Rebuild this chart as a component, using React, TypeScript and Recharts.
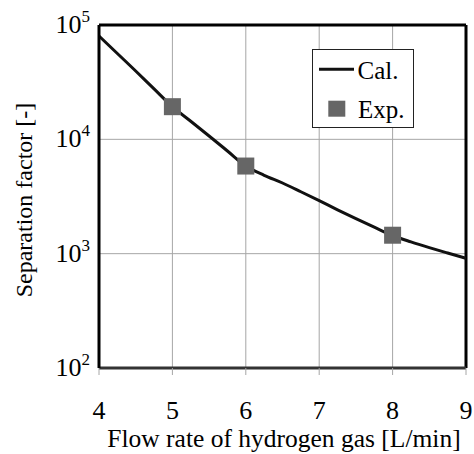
import {
  ComposedChart,
  Line,
  Scatter,
  XAxis,
  YAxis,
  CartesianGrid,
  ReferenceLine,
  Customized,
} from "recharts";

const curveX = [4, 4.25, 4.5, 4.75, 5, 5.25, 5.5, 5.75, 6, 6.25, 6.5, 6.75, 7, 7.25, 7.5, 7.75, 8, 8.25, 8.5, 8.75, 9];
const curveY = [
  80100, 56300, 39600, 27600, 19300, 14400, 10700, 7910, 5840, 4850, 4150, 3480, 2905, 2420, 2025, 1704,
  1442, 1269, 1130, 1013, 911,
];
const expX = [5, 6, 8];
const expY = [19300, 5840, 1450];
const xTicks = [4, 5, 6, 7, 8, 9];
const yTicks = [100, 1000, 10000, 100000];

const calData = curveX.map((x, i) => ({ x, cal: curveY[i] }));
const expData = expX.map((x, i) => ({ x, exp: expY[i] }));

const FONT = '"Liberation Serif", "Times New Roman", serif';

function YTick({ x, y, payload }: any) {
  const exp = Math.round(Math.log10(payload.value));
  return (
    <text x={x - 1} y={y + 8} textAnchor="end" fontFamily={FONT} fontSize={26} fill="#000">
      10
      <tspan dy={-11} fontSize={17}>
        {exp}
      </tspan>
    </text>
  );
}

function XTick({ x, y, payload }: any) {
  return (
    <text x={x} y={y + 42} textAnchor="middle" fontFamily={FONT} fontSize={26} fill="#000">
      {payload.value}
    </text>
  );
}

function Square({ cx, cy }: any) {
  return <rect x={cx - 8.5} y={cy - 8.5} width={17} height={17} fill="#666666" />;
}

// legend box and axis titles, drawn on top of the plot
function Extras() {
  return (
    <g>
      <text x={284} y={447} textAnchor="middle" fontFamily={FONT} fontSize={25.5} fill="#000">
        Flow rate of hydrogen gas [L/min]
      </text>
      <text
        x={32}
        y={200}
        transform="rotate(-90 32 200)"
        textAnchor="middle"
        fontFamily={FONT}
        fontSize={24}
        fill="#000"
      >
        Separation factor [-]
      </text>
      <g transform="translate(312 49)">
        <rect x={0.5} y={0.5} width={101} height={78} fill="#fff" stroke="#222" strokeWidth={1} />
        <line x1={7} x2={42} y1={20.3} y2={20.3} stroke="#111" strokeWidth={3} />
        <text x={45.5} y={29.7} fontFamily={FONT} fontSize={25} fill="#000">
          Cal.
        </text>
        <rect x={16.3} y={51.7} width={17} height={16} fill="#666666" />
        <text x={46} y={69.3} fontFamily={FONT} fontSize={25} fill="#000">
          Exp.
        </text>
      </g>
    </g>
  );
}

export default function App() {
  return (
    <div style={{ position: "absolute", left: 0, top: 0, width: 474, height: 454, background: "#fff" }}>
      <ComposedChart width={474} height={454} margin={{ top: 25, right: 8, bottom: 0, left: 0 }}>
        <CartesianGrid stroke="#a6a6a6" strokeWidth={1} />
        <XAxis
          dataKey="x"
          type="number"
          domain={[4, 9]}
          ticks={xTicks}
          height={86}
          axisLine={{ stroke: "#333", strokeWidth: 3 }}
          tickLine={{ stroke: "#a6a6a6" }}
          tickSize={7}
          tick={<XTick />}
          allowDataOverflow
        />
        <YAxis
          type="number"
          scale="log"
          domain={[100, 100000]}
          ticks={yTicks}
          width={99}
          axisLine={{ stroke: "#000", strokeWidth: 3 }}
          tickLine={false}
          tick={<YTick />}
          allowDataOverflow
        />
        <ReferenceLine y={100000} stroke="#000" strokeWidth={3} />
        <ReferenceLine x={9} stroke="#000" strokeWidth={3} />
        <Line
          data={calData}
          dataKey="cal"
          type="monotone"
          stroke="#111"
          strokeWidth={3}
          dot={false}
          isAnimationActive={false}
        />
        <Scatter data={expData} dataKey="exp" shape={<Square />} isAnimationActive={false} />
        <Customized component={<Extras />} />
      </ComposedChart>
    </div>
  );
}
